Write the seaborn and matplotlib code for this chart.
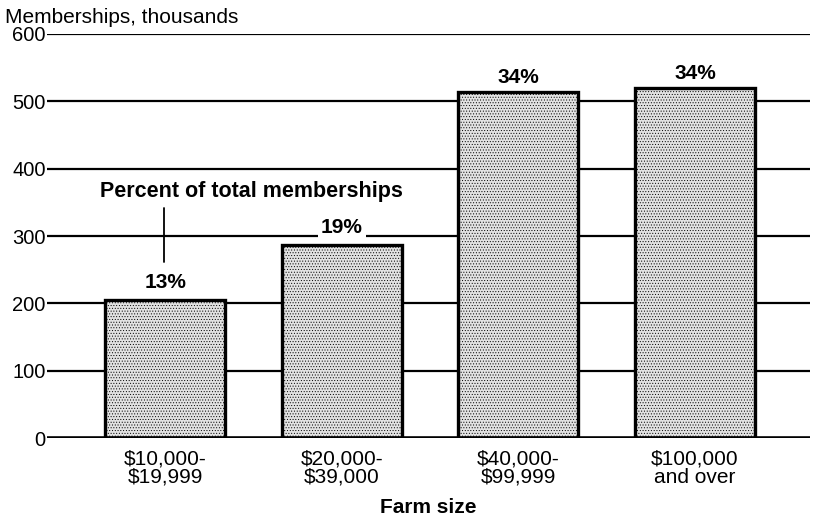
import numpy as np
import pandas as pd
import matplotlib
matplotlib.use("Agg")
import matplotlib.pyplot as plt
import seaborn as sns

# data
farm_size = ["$10,000-\n$19,999", "$20,000-\n$39,000", "$40,000-\n$99,999", "$100,000\nand over"]
memberships = [205, 286, 513, 519]
pct_labels = ["13%", "19%", "34%", "34%"]
y_ticks = [0, 100, 200, 300, 400, 500, 600]

df = pd.DataFrame({"farm_size": farm_size, "memberships": memberships})

sns.set_style("white")
plt.rcParams["font.family"] = ["Liberation Sans", "DejaVu Sans"]
plt.rcParams["text.color"] = "black"
plt.rcParams["xtick.color"] = "black"
plt.rcParams["ytick.color"] = "black"
plt.rcParams["axes.labelcolor"] = "black"
plt.rcParams["hatch.color"] = "#8c8c8c"
plt.rcParams["hatch.linewidth"] = 0.4

fig = plt.figure(figsize=(8.13, 5.21), dpi=100)
ax = fig.add_axes([0.058, 0.159, 0.938, 0.776])

for t in y_ticks[1:]:
    ax.axhline(t, color="black", lw=1.6, zorder=0)
ax.axhline(0, color="black", lw=2.6, zorder=3)

sns.barplot(data=df, x="farm_size", y="memberships", ax=ax, color="#e2e2e2",
            saturation=1, width=0.68, edgecolor="black", linewidth=2.4, zorder=2)
for p in ax.patches:
    p.set_hatch("......")

for i, (v, lab) in enumerate(zip(memberships, pct_labels)):
    bbox = dict(facecolor="white", edgecolor="none", pad=2) if i == 1 else None
    off = {0: 12, 1: 12, 2: 8, 3: 8}[i]
    ax.text(i, v + off, lab, ha="center", va="bottom", fontsize=15,
            fontweight="bold", bbox=bbox, zorder=4)

ax.text(0.49, 350, "Percent of total memberships", ha="center", va="bottom",
        fontsize=15.5, fontweight="bold", zorder=4)
ax.plot([-0.01, -0.01], [261, 342], color="black", lw=1.3, zorder=4)

ax.set_xlim(-0.67, 3.65)
ax.set_ylim(0, 600)
ax.set_yticks(y_ticks)
ax.tick_params(axis="y", length=0, labelsize=14.5, pad=1)
ax.tick_params(axis="x", length=0, labelsize=15, pad=8)
for lab in ax.get_xticklabels():
    lab.set_linespacing(0.95)
ax.set_xlabel("Farm size", fontsize=15, fontweight="bold", labelpad=8)
ax.set_ylabel("")
for s in ax.spines.values():
    s.set_visible(False)

fig.text(0.006, 0.985, "Memberships, thousands", ha="left", va="top", fontsize=15)

fig.savefig("out.png", dpi=100)
plt.close(fig)
